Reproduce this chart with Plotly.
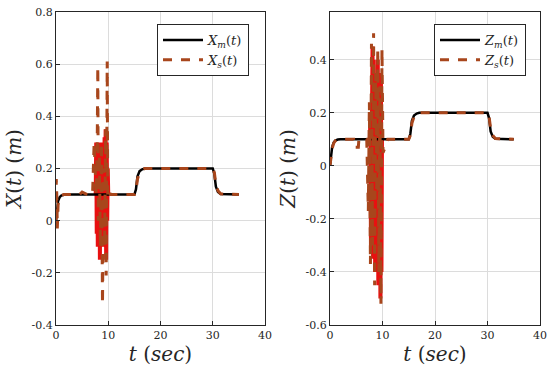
import plotly.graph_objects as go

# ---------------- data ----------------
t_m = [0, 0.2, 0.4, 0.7, 1.0, 1.5, 2, 15, 15.3, 15.6, 16, 16.5, 17, 30, 30.3, 30.6, 31, 31.5, 35]
x_m = [0.0, 0.05, 0.075, 0.09, 0.096, 0.099, 0.1, 0.1, 0.12, 0.17, 0.19, 0.197, 0.2, 0.2, 0.18, 0.13, 0.11, 0.102, 0.1]
z_m = [0.0, 0.045, 0.07, 0.088, 0.095, 0.099, 0.1, 0.1, 0.12, 0.17, 0.19, 0.197, 0.2, 0.2, 0.18, 0.13, 0.11, 0.102, 0.1]

t_xs = [0, 0.05, 0.15, 0.25, 0.4, 0.7, 1.0, 1.5, 2, 4.5, 5, 5.5, 6, 7, 7.3, 7.5, 7.7, 7.9, 8.0, 8.1, 8.3,
        8.5, 8.7, 8.9, 9.1, 9.3, 9.5, 9.6, 9.8, 9.9, 10.1, 10.4, 11, 15, 15.3, 15.6, 16, 16.5, 17, 30, 30.3,
        30.6, 31, 31.5, 35]
x_s = [0.0, 0.16, 0.1, -0.03, 0.06, 0.09, 0.097, 0.1, 0.1, 0.1, 0.11, 0.105, 0.1, 0.1, 0.3, 0.2, 0.1, 0.32,
       0.59, 0.0, 0.25, -0.1, 0.3, -0.32, 0.2, -0.1, 0.35, -0.21, 0.61, 0.1, 0.12, 0.1, 0.1, 0.1, 0.115,
       0.16, 0.185, 0.195, 0.2, 0.2, 0.185, 0.14, 0.115, 0.103, 0.1]

t_zs = [0, 0.2, 0.4, 0.7, 1.0, 1.5, 2, 4.5, 4.6, 5.4, 5.5, 7, 7.3, 7.5, 7.7, 7.9, 8.1, 8.3, 8.5, 8.7, 8.9,
        9.1, 9.3, 9.5, 9.7, 9.9, 10.1, 10.5, 11, 15, 15.3, 15.6, 16, 16.5, 17, 30, 30.3, 30.6, 31, 31.5, 35]
z_s = [0.0, 0.04, 0.065, 0.085, 0.094, 0.099, 0.1, 0.1, 0.07, 0.07, 0.1, 0.1, -0.17, 0.24, -0.37, 0.46,
       -0.3, 0.5, -0.45, 0.35, -0.1, 0.44, -0.4, 0.3, -0.52, 0.44, 0.05, 0.07, 0.1, 0.1, 0.115, 0.16,
       0.185, 0.195, 0.2, 0.2, 0.185, 0.14, 0.115, 0.103, 0.1]

t_noise = [7.6, 7.7, 7.8, 7.9, 8.0, 8.1, 8.2, 8.3, 8.4, 8.5, 8.6, 8.7, 8.8, 8.9, 9.0, 9.1, 9.2, 9.3, 9.4,
           9.5, 9.6, 9.7, 9.8, 9.9, 10.0]
x_noise = [0.1, 0.3, -0.05, 0.25, -0.1, 0.28, 0.0, 0.3, -0.15, 0.22, 0.05, 0.3, -0.1, 0.25, -0.05, 0.3,
           -0.1, 0.32, 0.0, 0.35, -0.15, 0.3, 0.0, 0.2, 0.1]
z_noise = [0.1, 0.2, -0.3, 0.35, -0.2, 0.45, -0.35, 0.4, -0.25, 0.3, -0.4, 0.25, -0.2, 0.35, -0.3, 0.4,
           -0.45, 0.3, -0.35, 0.2, -0.5, 0.35, -0.4, 0.1, 0.1]

x_ticks = [0, 10, 20, 30, 40]
yl_ticks = [-0.4, -0.2, 0, 0.2, 0.4, 0.6, 0.8]
yr_ticks = [-0.6, -0.4, -0.2, 0, 0.2, 0.4]

# ---------------- styles ----------------
BLACK = "#000000"
BROWN = "#A8461C"
RED = "#E81010"
FONT = "DejaVu Serif"
TXT = "#262626"

fig = go.Figure()

fig.add_trace(go.Scatter(x=t_noise, y=x_noise, mode="lines", line=dict(color=RED, width=4),
                         showlegend=False, xaxis="x", yaxis="y", hoverinfo="skip"))
fig.add_trace(go.Scatter(x=t_m, y=x_m, mode="lines", line=dict(color=BLACK, width=2.5),
                         name="<i>X<sub>m</sub></i>(<i>t</i>)", xaxis="x", yaxis="y", legend="legend"))
fig.add_trace(go.Scatter(x=t_xs, y=x_s, mode="lines", line=dict(color=BROWN, width=3, dash="dash"),
                         name="<i>X<sub>s</sub></i>(<i>t</i>)", xaxis="x", yaxis="y", legend="legend"))

fig.add_trace(go.Scatter(x=t_noise, y=z_noise, mode="lines", line=dict(color=RED, width=4),
                         showlegend=False, xaxis="x2", yaxis="y2", hoverinfo="skip"))
fig.add_trace(go.Scatter(x=t_m, y=z_m, mode="lines", line=dict(color=BLACK, width=2.5),
                         name="<i>Z<sub>m</sub></i>(<i>t</i>)", xaxis="x2", yaxis="y2", legend="legend2"))
fig.add_trace(go.Scatter(x=t_zs, y=z_s, mode="lines", line=dict(color=BROWN, width=3, dash="dash"),
                         name="<i>Z<sub>s</sub></i>(<i>t</i>)", xaxis="x2", yaxis="y2", legend="legend2"))

axis_common = dict(showline=True, linecolor=TXT, linewidth=1, mirror=True, automargin=False,
                   showgrid=True, gridcolor="#DCDCDC", gridwidth=1, zeroline=False,
                   ticks="inside", ticklen=4, tickcolor=TXT, ticklabeloverflow="allow",
                   tickfont=dict(family=FONT, size=11, color=TXT))

title_font = dict(family=FONT, size=20, color=TXT)
W, H = 550, 375
ML, MR, MT, MB = 56, 10, 12, 50
PW = W - ML - MR
PH = H - MT - MB
fig.update_layout(
    width=W, height=H, margin=dict(l=ML, r=MR, t=MT, b=MB, autoexpand=False),
    paper_bgcolor="white", plot_bgcolor="white",
    xaxis=dict(domain=[0, (265 - ML) / PW], range=[0, 40], tickvals=x_ticks, anchor="y",
               title=dict(text="<i>t</i> (<i>sec</i>)", font=title_font, standoff=4),
               **axis_common),
    yaxis=dict(domain=[0, 1], range=[-0.4, 0.8], tickvals=yl_ticks, anchor="x",
               ticktext=["-0.4", "-0.2", "0", "0.2", "0.4", "0.6", "0.8"],
               title=dict(text="<i>X</i>(<i>t</i>) (<i>m</i>)", font=title_font, standoff=4),
               **axis_common),
    xaxis2=dict(domain=[(330 - ML) / PW, 1], range=[0, 40], tickvals=x_ticks, anchor="y2",
                title=dict(text="<i>t</i> (<i>sec</i>)", font=title_font, standoff=4),
                **axis_common),
    yaxis2=dict(domain=[0, 1], range=[-0.6, 0.58], tickvals=yr_ticks, anchor="x2",
                ticktext=["-0.6", "-0.4", "-0.2", "0", "0.2", "0.4"],
                title=dict(text="<i>Z</i>(<i>t</i>) (<i>m</i>)", font=title_font, standoff=4),
                **axis_common),
    legend=dict(x=(157 - ML) / PW, y=1 - (24 - MT) / PH, xanchor="left", yanchor="top",
                bordercolor=TXT, borderwidth=1, bgcolor="white",
                font=dict(family=FONT, size=13, color=TXT), tracegroupgap=0,
                itemwidth=40),
    legend2=dict(x=(434 - ML) / PW, y=1 - (24 - MT) / PH, xanchor="left", yanchor="top",
                 bordercolor=TXT, borderwidth=1, bgcolor="white",
                 font=dict(family=FONT, size=13, color=TXT), tracegroupgap=0,
                 itemwidth=40),
)

fig.write_html("out.html", config={"displayModeBar": False},
               post_script="document.body.style.margin='0';")
